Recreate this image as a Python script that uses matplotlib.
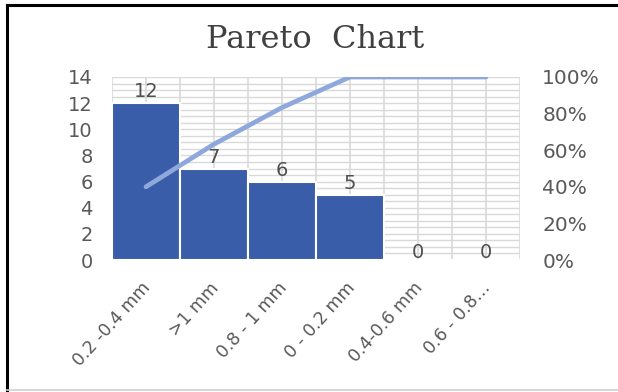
import matplotlib.pyplot as plt
import numpy as np
from matplotlib.lines import Line2D
from matplotlib.ticker import MultipleLocator, FuncFormatter
import matplotlib.transforms as mtransforms

categories = ["0.2 -0.4 mm", ">1 mm", "0.8 - 1 mm", "0 - 0.2 mm", "0.4-0.6 mm", "0.6 - 0.8\u2026"]
counts = [12, 7, 6, 5, 0, 0]
cum_pct = [0.40, 0.633, 0.833, 1.0, 1.0, 1.0]

bar_color = "#3A5DA9"
line_color = "#8FA8DC"
text_color = "#595959"
grid_color = "#D9D9D9"

plt.rcParams['font.family'] = ['DejaVu Sans']

fig = plt.figure(figsize=(6.18, 3.92), dpi=100)
ax = fig.add_axes([112/618, 1-260/392, 408/618, 183/392])

x = np.arange(len(categories))
ax.set_xlim(-0.5, len(categories) - 0.5)
ax.set_ylim(0, 14)

# grid: vertical every half category, horizontal every 0.5
for gx in np.arange(-0.5, len(categories), 0.5):
    ax.axvline(gx, color=grid_color, lw=1.2, zorder=0)
for gy in np.arange(0, 14.01, 0.5):
    ax.axhline(gy, color=grid_color, lw=1.0, zorder=0)

ax.bar(x, counts, width=1.0, color=bar_color, edgecolor="white", linewidth=1.5, zorder=2)
for xi, c in zip(x, counts):
    ypos = c + 0.15 if c > 0 else -0.15
    ax.text(xi, ypos, str(c), ha="center", va="bottom", fontsize=14, color="#505050", zorder=4)

for s in ax.spines.values():
    s.set_visible(False)
ax.yaxis.set_major_locator(MultipleLocator(2))
ax.tick_params(axis="y", length=0, pad=14, labelsize=14, labelcolor=text_color)
ax.tick_params(axis="x", length=0, pad=2)
ax.set_xticks(x)
ax.set_xticklabels(categories, rotation=48, ha="right", rotation_mode="anchor",
                   fontsize=12.5, color=text_color)
offset = mtransforms.ScaledTranslation(-5/100, -16/100, fig.dpi_scale_trans)
for lbl in ax.get_xticklabels():
    lbl.set_transform(lbl.get_transform() + offset)

ax2 = ax.twinx()
ax2.set_ylim(0, 1)
ax2.plot(x, cum_pct, color=line_color, lw=3.4, solid_capstyle="round", zorder=5)
for s in ax2.spines.values():
    s.set_visible(False)
ax2.yaxis.set_major_locator(MultipleLocator(0.2))
ax2.yaxis.set_major_formatter(FuncFormatter(lambda v, p: f"{v*100:.0f}%"))
ax2.tick_params(axis="y", length=0, pad=16, labelsize=14.5, labelcolor=text_color)

fig.text(315/618, 1-39/392, "Pareto  Chart", ha="center", va="center",
         fontsize=23, color="#404040", family="DejaVu Serif")

# outer frame
fig.add_artist(Line2D([7/618, 7/618], [0, 1-5/392], color="black", lw=2.2, transform=fig.transFigure))
fig.add_artist(Line2D([7/618, 1], [1-5/392, 1-5/392], color="black", lw=2.2, transform=fig.transFigure))
fig.add_artist(Line2D([7/618, 1], [2/392, 2/392], color="#D0D0D0", lw=1.2, transform=fig.transFigure))

fig.savefig("out.png", dpi=100)
